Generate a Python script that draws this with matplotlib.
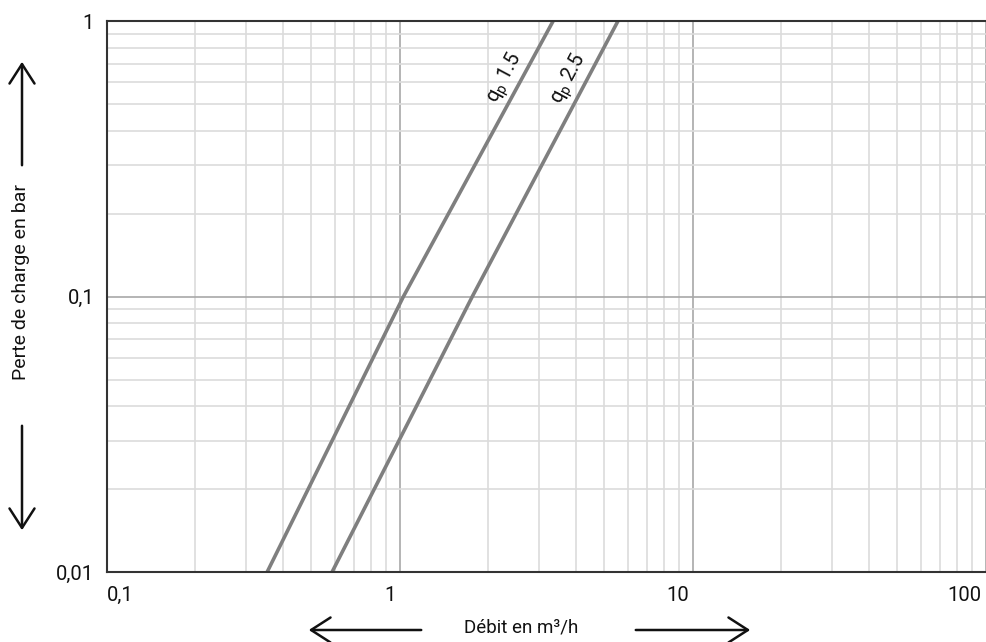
import numpy as np
import matplotlib.pyplot as plt
from matplotlib.ticker import LogLocator, NullFormatter
import matplotlib.transforms as mtransforms

plt.rcParams['font.family'] = ['Roboto', 'DejaVu Sans']

# Pressure loss curves (flow m3/h, loss bar)
flow_qp15 = [0.353, 1.03, 3.34]
loss_qp15 = [0.01, 0.1, 1.0]
flow_qp25 = [0.588, 1.77, 5.56]
loss_qp25 = [0.01, 0.1, 1.0]

x_ticks = [0.1, 1, 10, 100]
x_labels = ['0,1', '1', '10', '100']
y_ticks = [0.01, 0.1, 1]
y_labels = ['0,01', '0,1', '1']

curve_labels = [r'$\mathregular{q_p}$ 1.5', r'$\mathregular{q_p}$ 2.5']
label_pos = [(2.3, 0.62), (3.8, 0.615)]

fig = plt.figure(figsize=(9.86, 6.42), dpi=100)
ax = fig.add_axes([0.1082, 0.109, 0.8913, 0.858])

line_col = '#7f7f7f'
ax.plot(flow_qp15, loss_qp15, color=line_col, lw=2.6, solid_capstyle='butt')
ax.plot(flow_qp25, loss_qp25, color=line_col, lw=2.6, solid_capstyle='butt')

ax.set_xscale('log')
ax.set_yscale('log')
ax.set_xlim(0.1, 100)
ax.set_ylim(0.01, 1)

ax.xaxis.set_minor_locator(LogLocator(base=10, subs=np.arange(2, 10)))
ax.yaxis.set_minor_locator(LogLocator(base=10, subs=np.arange(2, 10)))
ax.xaxis.set_minor_formatter(NullFormatter())
ax.yaxis.set_minor_formatter(NullFormatter())
ax.grid(which='minor', color='#dcdcdc', lw=1.2)
ax.grid(which='major', color='#a8a8a8', lw=1.2)
ax.set_axisbelow(True)

ax.set_xticks(x_ticks)
ax.set_xticklabels(x_labels)
ax.set_yticks(y_ticks)
ax.set_yticklabels(y_labels)
ax.tick_params(which='both', length=0, labelsize=14.5, colors='#111111')
ax.tick_params(axis='x', pad=10)
ax.tick_params(axis='y', pad=9)

# x tick labels: first left-aligned, the rest right-aligned
for i, lbl in enumerate(ax.get_xticklabels()):
    if i == 0:
        lbl.set_ha('left')
    else:
        lbl.set_ha('right')
        off = mtransforms.ScaledTranslation(-4 / 100, 0, fig.dpi_scale_trans)
        lbl.set_transform(lbl.get_transform() + off)

for s in ['left', 'top', 'bottom']:
    ax.spines[s].set_color('#333333')
    ax.spines[s].set_linewidth(1.5)
ax.spines['right'].set_visible(False)

for txt, (x, y) in zip(curve_labels, label_pos):
    ax.text(x, y, txt, rotation=62, ha='center', va='center',
            fontsize=14.5, color='#111111')

# axis titles with arrows
fig.text(521 / 986, 1 - 628 / 642, 'Débit en m³/h', ha='center', va='center',
         fontsize=13.5, color='#111111')
fig.text(21 / 986, 1 - 282 / 642, 'Perte de charge en bar', rotation=90,
         ha='center', va='center', fontsize=14, color='#111111')

arrow_kw = dict(arrowstyle='->,head_length=0.7,head_width=0.45', lw=1.8,
                color='#111111', mutation_scale=20)


def px(x, y):
    return (x / 986, 1 - y / 642)


for start, end in [((424, 630), (306, 630)), ((633, 630), (753, 630)),
                   ((22, 168), (22, 59)), ((22, 423), (22, 533))]:
    ax.annotate('', xy=px(*end), xytext=px(*start), xycoords='figure fraction',
                textcoords='figure fraction', arrowprops=arrow_kw)

fig.savefig('out.png', dpi=100)
